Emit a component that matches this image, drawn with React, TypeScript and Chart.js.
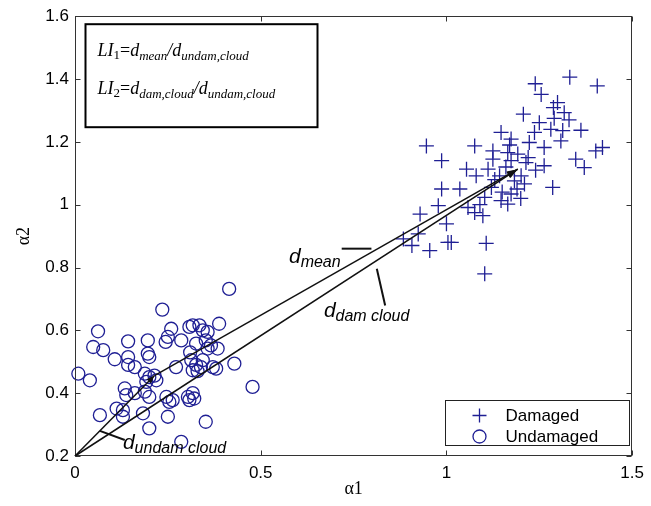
import React, { useEffect, useRef } from 'react';
import { Chart, registerables } from 'chart.js';

Chart.register(...registerables);

// ---- Data ----
const damagedX = [1.332, 1.239, 1.406, 1.255, 1.299, 1.317, 1.288, 1.207, 1.29, 1.25, 1.281, 1.362, 1.313, 1.147, 1.237, 1.174, 1.308, 1.223, 0.946, 1.076, 1.42, 1.263, 1.125, 1.402, 1.165, 1.192, 1.348, 0.987, 1.125, 1.174, 1.214, 1.263, 1.371, 1.054, 1.112, 1.08, 1.143, 1.201, 1.183, 1.121, 1.21, 0.987, 1.036, 1.286, 1.174, 1.103, 1.147, 1.165, 0.978, 1.058, 0.929, 1.098, 1.076, 1.0, 0.924, 0.884, 0.907, 0.955, 1.004, 1.107, 1.103, 1.013, 1.16, 1.19, 1.13, 1.22, 1.09, 1.24, 1.33, 1.17, 1.15, 1.2];
const damagedY = [1.406, 1.385, 1.378, 1.351, 1.325, 1.293, 1.309, 1.288, 1.275, 1.261, 1.24, 1.237, 1.236, 1.23, 1.23, 1.209, 1.203, 1.198, 1.187, 1.187, 1.182, 1.182, 1.171, 1.171, 1.166, 1.161, 1.145, 1.14, 1.145, 1.14, 1.134, 1.124, 1.118, 1.113, 1.113, 1.092, 1.092, 1.092, 1.076, 1.055, 1.066, 1.05, 1.05, 1.055, 1.034, 1.023, 1.013, 1.002, 0.997, 0.991, 0.97, 0.965, 0.975, 0.939, 0.907, 0.891, 0.87, 0.854, 0.88, 0.877, 0.78, 0.88, 1.12, 1.05, 1.08, 1.15, 1.0, 1.11, 1.27, 1.19, 1.04, 1.02];

const undamagedX = [0.415, 0.235, 0.062, 0.196, 0.143, 0.259, 0.25, 0.244, 0.308, 0.335, 0.344, 0.357, 0.388, 0.286, 0.352, 0.326, 0.049, 0.076, 0.196, 0.2, 0.107, 0.143, 0.357, 0.384, 0.161, 0.143, 0.272, 0.313, 0.326, 0.317, 0.339, 0.344, 0.429, 0.371, 0.009, 0.04, 0.188, 0.2, 0.214, 0.219, 0.192, 0.134, 0.138, 0.161, 0.188, 0.2, 0.246, 0.254, 0.263, 0.304, 0.317, 0.321, 0.478, 0.112, 0.129, 0.067, 0.129, 0.183, 0.25, 0.352, 0.2, 0.286, 0.317, 0.366, 0.38, 0.308, 0.33, 0.31];
const undamagedY = [0.732, 0.666, 0.597, 0.568, 0.565, 0.605, 0.579, 0.563, 0.611, 0.616, 0.6, 0.595, 0.621, 0.568, 0.568, 0.558, 0.547, 0.537, 0.526, 0.515, 0.508, 0.515, 0.542, 0.542, 0.483, 0.49, 0.483, 0.505, 0.49, 0.473, 0.483, 0.505, 0.494, 0.483, 0.462, 0.441, 0.462, 0.451, 0.456, 0.441, 0.436, 0.415, 0.394, 0.4, 0.405, 0.388, 0.388, 0.372, 0.378, 0.388, 0.4, 0.383, 0.42, 0.351, 0.346, 0.33, 0.325, 0.336, 0.325, 0.309, 0.288, 0.245, 0.616, 0.552, 0.478, 0.378, 0.47, 0.53];

const seriesLabels = ['Damaged', 'Undamaged'];

const xTicks = [0, 0.5, 1, 1.5];
const xTickLabels = ['0', '0.5', '1', '1.5'];
const yTicks = [0.2, 0.4, 0.6, 0.8, 1, 1.2, 1.4, 1.6];
const yTickLabels = ['0.2', '0.4', '0.6', '0.8', '1', '1.2', '1.4', '1.6'];

// Vector end points (data coordinates)
const originPt = [0, 0.2];
const undamagedMean = [0.214, 0.456];
const damagedMean = [1.192, 1.113];

// Annotation label anchors and leader lines (data coordinates)
const meanLeader = [[0.718, 0.86], [0.798, 0.86]];
const damLeader = [[0.8125, 0.796], [0.835, 0.679]];
const undamLeader = [[0.067, 0.28], [0.134, 0.251]];
const meanLabelAt = [0.576, 0.815];
const damLabelAt = [0.67, 0.643];
const undamLabelAt = [0.129, 0.222];

const MARK = '#1f1f94';
const SANS = '"Liberation Sans", Arial, sans-serif';
const SERIF = '"Liberation Serif", "Times New Roman", serif';

type Part = { t: string; f: string; dy?: number };

function drawParts(ctx: CanvasRenderingContext2D, x: number, y: number, parts: Part[]) {
  let cx = x;
  for (const p of parts) {
    ctx.font = p.f;
    ctx.fillText(p.t, cx, y + (p.dy || 0));
    cx += ctx.measureText(p.t).width;
  }
}

function arrow(ctx: CanvasRenderingContext2D, x0: number, y0: number, x1: number, y1: number, len: number, half: number) {
  ctx.beginPath();
  ctx.moveTo(x0, y0);
  ctx.lineTo(x1, y1);
  ctx.stroke();
  const ang = Math.atan2(y1 - y0, x1 - x0);
  const bx = x1 - len * Math.cos(ang);
  const by = y1 - len * Math.sin(ang);
  const nx = -Math.sin(ang) * half;
  const ny = Math.cos(ang) * half;
  ctx.beginPath();
  ctx.moveTo(x1, y1);
  ctx.lineTo(bx + nx, by + ny);
  ctx.lineTo(bx - nx, by - ny);
  ctx.closePath();
  ctx.fill();
}

const overlay = {
  id: 'overlay',
  afterDraw(chart: any) {
    const { ctx, chartArea: a, scales } = chart;
    const xs = scales.x;
    const ys = scales.y;
    const px = (v: number) => xs.getPixelForValue(v);
    const py = (v: number) => ys.getPixelForValue(v);
    ctx.save();

    // Frame with inward ticks
    const L = Math.round(a.left) + 0.5;
    const R = Math.round(a.right) - 0.5;
    const T = Math.round(a.top) + 0.5;
    const B = Math.round(a.bottom) - 0.5;
    ctx.strokeStyle = '#333';
    ctx.lineWidth = 1;
    ctx.strokeRect(L, T, R - L, B - T);
    ctx.beginPath();
    xTicks.forEach((v) => {
      const X = Math.round(px(v)) + 0.5;
      ctx.moveTo(X, B); ctx.lineTo(X, B - 5);
      ctx.moveTo(X, T); ctx.lineTo(X, T + 5);
    });
    yTicks.forEach((v) => {
      const Y = Math.round(py(v)) + 0.5;
      ctx.moveTo(L, Y); ctx.lineTo(L + 5, Y);
      ctx.moveTo(R, Y); ctx.lineTo(R - 5, Y);
    });
    ctx.stroke();

    // Vectors
    ctx.strokeStyle = '#111';
    ctx.fillStyle = '#111';
    ctx.lineWidth = 1.5;
    arrow(ctx, px(originPt[0]), py(originPt[1]), px(undamagedMean[0]), py(undamagedMean[1]), 8, 3);
    arrow(ctx, px(undamagedMean[0]), py(undamagedMean[1]), px(damagedMean[0]), py(damagedMean[1]), 11, 3.5);
    arrow(ctx, px(originPt[0]), py(originPt[1]), px(damagedMean[0]), py(damagedMean[1]), 11, 3.5);

    // Leaders
    ctx.lineWidth = 2;
    [meanLeader, damLeader, undamLeader].forEach((seg) => {
      ctx.beginPath();
      ctx.moveTo(px(seg[0][0]), py(seg[0][1]));
      ctx.lineTo(px(seg[1][0]), py(seg[1][1]));
      ctx.stroke();
    });

    // Labels
    ctx.fillStyle = '#000';
    ctx.textAlign = 'left';
    ctx.textBaseline = 'alphabetic';
    const dFont = `italic 21px ${SANS}`;
    const sFont = `italic 16px ${SANS}`;
    drawParts(ctx, px(meanLabelAt[0]), py(meanLabelAt[1]), [
      { t: 'd', f: dFont }, { t: 'mean', f: sFont, dy: 4 },
    ]);
    drawParts(ctx, px(damLabelAt[0]), py(damLabelAt[1]), [
      { t: 'd', f: dFont }, { t: 'dam cloud', f: sFont, dy: 4 },
    ]);
    drawParts(ctx, px(undamLabelAt[0]), py(undamLabelAt[1]), [
      { t: 'd', f: dFont }, { t: 'undam cloud', f: sFont, dy: 4 },
    ]);

    // LI formula box
    const bx0 = a.left + 10.5;
    const by0 = a.top + 8;
    ctx.strokeStyle = '#000';
    ctx.lineWidth = 2;
    ctx.strokeRect(bx0, by0, 232, 103);
    const mI = `italic 18px ${SERIF}`;
    const mR = `18px ${SERIF}`;
    const sI = `italic 13px ${SERIF}`;
    const sR = `13px ${SERIF}`;
    drawParts(ctx, bx0 + 12, by0 + 32, [
      { t: 'LI', f: mI }, { t: '1', f: sR, dy: 3 }, { t: '=', f: mR }, { t: 'd', f: mI },
      { t: 'mean', f: sI, dy: 4 }, { t: '/', f: mI }, { t: 'd', f: mI }, { t: 'undam,cloud', f: sI, dy: 4 },
    ]);
    drawParts(ctx, bx0 + 12, by0 + 70, [
      { t: 'LI', f: mI }, { t: '2', f: sR, dy: 3 }, { t: '=', f: mR }, { t: 'd', f: mI },
      { t: 'dam,cloud', f: sI, dy: 4 }, { t: '/', f: mI }, { t: 'd', f: mI }, { t: 'undam,cloud', f: sI, dy: 4 },
    ]);

    // Legend
    const lx0 = Math.round(a.right - 187) + 0.5;
    const ly0 = Math.round(a.bottom - 56) + 0.5;
    ctx.fillStyle = '#fff';
    ctx.fillRect(lx0, ly0, 184, 45);
    ctx.strokeStyle = '#222';
    ctx.lineWidth = 1;
    ctx.strokeRect(lx0, ly0, 184, 45);
    ctx.strokeStyle = MARK;
    ctx.lineWidth = 1.3;
    const mx = lx0 + 34;
    const r1 = ly0 + 15;
    const r2 = ly0 + 36;
    ctx.beginPath();
    ctx.moveTo(mx - 7, r1); ctx.lineTo(mx + 7, r1);
    ctx.moveTo(mx, r1 - 7); ctx.lineTo(mx, r1 + 7);
    ctx.stroke();
    ctx.beginPath();
    ctx.arc(mx, r2, 6.5, 0, Math.PI * 2);
    ctx.stroke();
    ctx.fillStyle = '#000';
    ctx.font = `17px ${SANS}`;
    ctx.textBaseline = 'middle';
    ctx.fillText(seriesLabels[0], lx0 + 60, r1 + 1);
    ctx.fillText(seriesLabels[1], lx0 + 60, r2 + 1);

    ctx.restore();
  },
};

export default function App() {
  const ref = useRef<HTMLCanvasElement>(null);
  useEffect(() => {
    if (!ref.current) return;
    const chart = new Chart(ref.current, {
      type: 'scatter',
      data: {
        datasets: [
          {
            label: seriesLabels[0],
            data: damagedX.map((x, i) => ({ x, y: damagedY[i] })),
            pointStyle: 'cross',
            pointRadius: 7.5,
            borderColor: MARK,
            backgroundColor: MARK,
            borderWidth: 1.3,
            clip: false,
          } as any,
          {
            label: seriesLabels[1],
            data: undamagedX.map((x, i) => ({ x, y: undamagedY[i] })),
            pointStyle: 'circle',
            pointRadius: 6.5,
            borderColor: MARK,
            backgroundColor: 'rgba(0,0,0,0)',
            borderWidth: 1.3,
            clip: false,
          } as any,
        ],
      },
      options: {
        responsive: false,
        animation: false,
        devicePixelRatio: 1,
        events: [],
        layout: { padding: { left: 0, right: 16, top: 15, bottom: 0 } },
        plugins: { legend: { display: false }, tooltip: { enabled: false } },
        scales: {
          x: {
            type: 'linear',
            min: 0,
            max: 1.5,
            afterBuildTicks: (s: any) => { s.ticks = xTicks.map((v) => ({ value: v })); },
            afterFit: (s: any) => { s.height = 50; },
            ticks: {
              callback: (_v: any, i: number) => xTickLabels[i],
              font: { family: SANS, size: 17 },
              color: '#000',
              padding: 7,
              maxRotation: 0,
              autoSkip: false,
            },
            grid: { display: false, drawTicks: false },
            border: { display: false },
            title: {
              display: true,
              text: 'α1',
              font: { family: SERIF, size: 18 },
              color: '#000',
              padding: { top: 0, bottom: 6 },
            },
          },
          y: {
            type: 'linear',
            min: 0.2,
            max: 1.6,
            afterBuildTicks: (s: any) => { s.ticks = yTicks.map((v) => ({ value: v })); },
            afterFit: (s: any) => { s.width = 75; },
            ticks: {
              callback: (_v: any, i: number) => yTickLabels[i],
              font: { family: SANS, size: 17 },
              color: '#000',
              padding: 6,
              autoSkip: false,
            },
            grid: { display: false, drawTicks: false },
            border: { display: false },
            title: {
              display: true,
              text: 'α2',
              font: { family: SERIF, size: 18 },
              color: '#000',
              padding: { top: 13, bottom: 0 },
            },
          },
        },
      },
      plugins: [overlay],
    });
    return () => chart.destroy();
  }, []);
  return (
    <div style={{ position: 'absolute', left: 0, top: 0, width: 651, height: 506, background: '#fff' }}>
      <canvas ref={ref} width={651} height={506} />
    </div>
  );
}
